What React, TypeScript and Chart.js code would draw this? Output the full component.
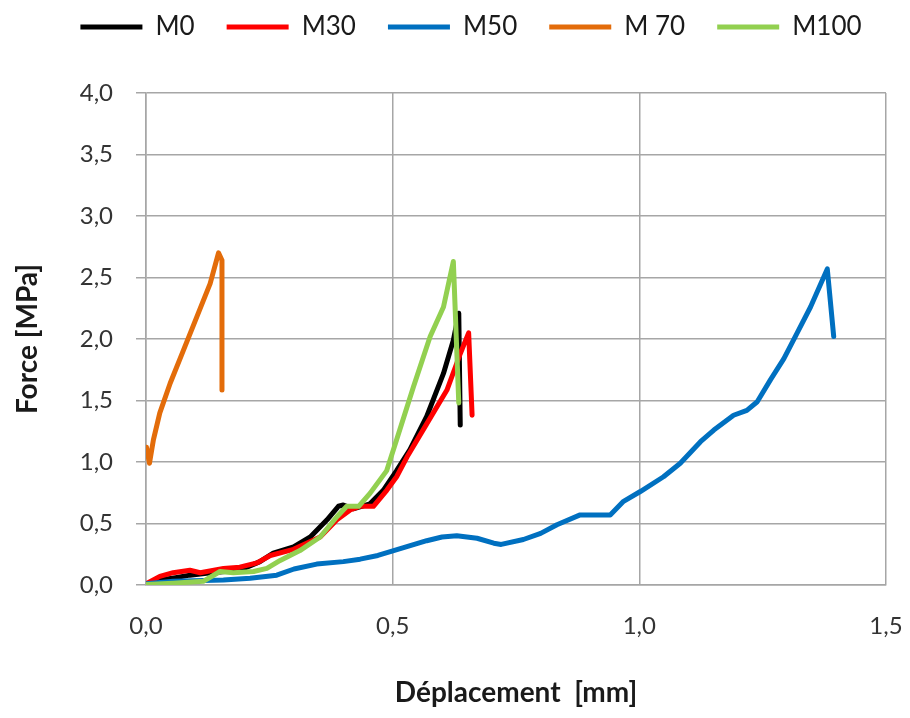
import React, { useEffect, useRef } from "react";
import { Chart, registerables } from "chart.js";

Chart.register(...registerables);

const seriesNames = ["M0", "M30", "M50", "M 70", "M100"];
const seriesColors = ["#000000", "#ff0000", "#0070c0", "#e36c0a", "#92d050"];

const m0X = [0, 0.028, 0.06, 0.089, 0.123, 0.16, 0.19, 0.231, 0.258, 0.299, 0.333, 0.367, 0.39, 0.40, 0.42, 0.454, 0.481, 0.508, 0.535, 0.569, 0.603, 0.623, 0.634, 0.637];
const m0Y = [0, 0.04, 0.06, 0.08, 0.095, 0.11, 0.12, 0.19, 0.26, 0.31, 0.39, 0.53, 0.64, 0.65, 0.62, 0.66, 0.77, 0.93, 1.10, 1.37, 1.72, 1.99, 2.21, 1.30];

const m30X = [0, 0.028, 0.055, 0.089, 0.11, 0.157, 0.19, 0.225, 0.252, 0.299, 0.353, 0.387, 0.414, 0.434, 0.461, 0.488, 0.508, 0.529, 0.569, 0.61, 0.637, 0.654, 0.661];
const m30Y = [0.01, 0.07, 0.10, 0.12, 0.10, 0.135, 0.145, 0.18, 0.24, 0.29, 0.39, 0.53, 0.61, 0.64, 0.64, 0.77, 0.88, 1.04, 1.31, 1.585, 1.88, 2.05, 1.38];

const m50X = [0, 0.055, 0.157, 0.211, 0.265, 0.30, 0.346, 0.40, 0.434, 0.47, 0.502, 0.569, 0.60, 0.63, 0.671, 0.705, 0.72, 0.765, 0.80, 0.833, 0.88, 0.941, 0.968, 1.002, 1.049, 1.083, 1.124, 1.151, 1.191, 1.218, 1.239, 1.266, 1.293, 1.32, 1.347, 1.381, 1.394];
const m50Y = [0.01, 0.03, 0.04, 0.055, 0.08, 0.13, 0.17, 0.19, 0.21, 0.24, 0.28, 0.36, 0.39, 0.40, 0.38, 0.34, 0.33, 0.37, 0.42, 0.49, 0.57, 0.57, 0.68, 0.76, 0.88, 0.99, 1.165, 1.26, 1.38, 1.42, 1.49, 1.67, 1.84, 2.05, 2.26, 2.57, 2.02];

const m70X = [0.001, 0.007, 0.015, 0.028, 0.049, 0.076, 0.103, 0.130, 0.147, 0.154, 0.154];
const m70Y = [1.12, 0.99, 1.18, 1.40, 1.64, 1.91, 2.18, 2.45, 2.70, 2.64, 1.585];

const m100X = [0, 0.055, 0.116, 0.15, 0.177, 0.218, 0.245, 0.272, 0.312, 0.353, 0.387, 0.407, 0.431, 0.454, 0.488, 0.508, 0.542, 0.576, 0.603, 0.623, 0.634];
const m100Y = [0.005, 0.015, 0.03, 0.11, 0.10, 0.11, 0.135, 0.20, 0.28, 0.39, 0.555, 0.64, 0.64, 0.745, 0.93, 1.18, 1.61, 2.02, 2.26, 2.63, 1.48];

const xTicks = [0, 0.5, 1.0, 1.5];
const yTicks = [0, 0.5, 1.0, 1.5, 2.0, 2.5, 3.0, 3.5, 4.0];

const allX = [m0X, m30X, m50X, m70X, m100X];
const allY = [m0Y, m30Y, m50Y, m70Y, m100Y];

const fmt = (v: number) => v.toFixed(1).replace(".", ",");
const GRID = "#a6a6a6";
const FONT = "Lato, 'Open Sans', sans-serif";

export default function App() {
  const ref = useRef<HTMLCanvasElement>(null);
  useEffect(() => {
    if (!ref.current) return;
    const datasets = seriesNames.map((name, i) => ({
      label: name,
      data: allX[i].map((x, j) => ({ x, y: allY[i][j] })),
      borderColor: seriesColors[i],
      backgroundColor: seriesColors[i],
      borderWidth: 5,
      borderCapStyle: "round" as const,
      borderJoinStyle: "round" as const,
      pointRadius: 0,
      tension: 0,
      fill: false,
      order: seriesNames.length - 1 - i,
    }));
    const legendSpacer = {
      id: "legendSpacer",
      beforeInit(chart: any) {
        const orig = chart.legend.fit;
        chart.legend.fit = function () {
          orig.bind(chart.legend)();
          this.height = 111;
        };
      },
      afterLayout(chart: any) {
        chart.legend.left += 28;
        chart.legend.right += 28;
      },
    };
    const chart = new Chart(ref.current, {
      type: "line",
      data: { datasets },
      plugins: [legendSpacer],
      options: {
        responsive: false,
        animation: false,
        events: [],
        layout: { padding: { top: -18, right: 24, left: 0, bottom: 0 } },
        plugins: {
          tooltip: { enabled: false },
          legend: {
            position: "top",
            labels: {
              boxWidth: 62,
              boxHeight: 5,
              padding: 32,
              color: "#1a1a1a",
              font: { family: FONT, size: 26 },
              sort: (a: any, b: any) => a.datasetIndex - b.datasetIndex,
              generateLabels: (chart: any) =>
                Chart.defaults.plugins.legend.labels
                  .generateLabels(chart)
                  .map((l: any) => ({ ...l, lineWidth: 0, fillStyle: seriesColors[l.datasetIndex] })),
            },
          },
        },
        scales: {
          x: {
            type: "linear",
            min: 0,
            max: 1.5,
            afterFit: (s: any) => {
              s.height = 133;
              s.paddingRight = 0;
              s.paddingLeft = 0;
            },
            afterBuildTicks: (s: any) => {
              s.ticks = xTicks.map((v) => ({ value: v }));
            },
            ticks: {
              padding: 27,
              color: "#333333",
              font: { family: FONT, size: 24 },
              callback: (v: any) => fmt(Number(v)),
            },
            grid: { color: GRID, lineWidth: 1.5, drawTicks: false },
            border: { color: GRID, width: 1.5 },
            title: {
              display: true,
              text: "Déplacement  [mm]",
              color: "#1a1a1a",
              font: { family: FONT, size: 28, weight: "bold" },
              padding: { top: 0, bottom: 8 },
            },
          },
          y: {
            type: "linear",
            min: 0,
            max: 4,
            afterFit: (s: any) => {
              s.width = 146;
              s.paddingTop = 0;
              s.paddingBottom = 0;
            },
            afterBuildTicks: (s: any) => {
              s.ticks = yTicks.map((v) => ({ value: v }));
            },
            ticks: {
              padding: 23,
              color: "#333333",
              font: { family: FONT, size: 24 },
              callback: (v: any) => fmt(Number(v)),
            },
            grid: { color: GRID, lineWidth: 1.5, tickLength: 10 },
            border: { color: GRID, width: 1.5 },
            title: {
              display: true,
              text: "Force [MPa]",
              color: "#1a1a1a",
              font: { family: FONT, size: 28, weight: "bold" },
              padding: { top: 11, bottom: 0 },
            },
          },
        },
      },
    } as any);
    return () => chart.destroy();
  }, []);
  return (
    <div style={{ position: "fixed", left: 0, top: 0, width: 910, height: 718, background: "#fff" }}>
      <canvas ref={ref} width={910} height={718} style={{ display: "block" }} />
    </div>
  );
}
